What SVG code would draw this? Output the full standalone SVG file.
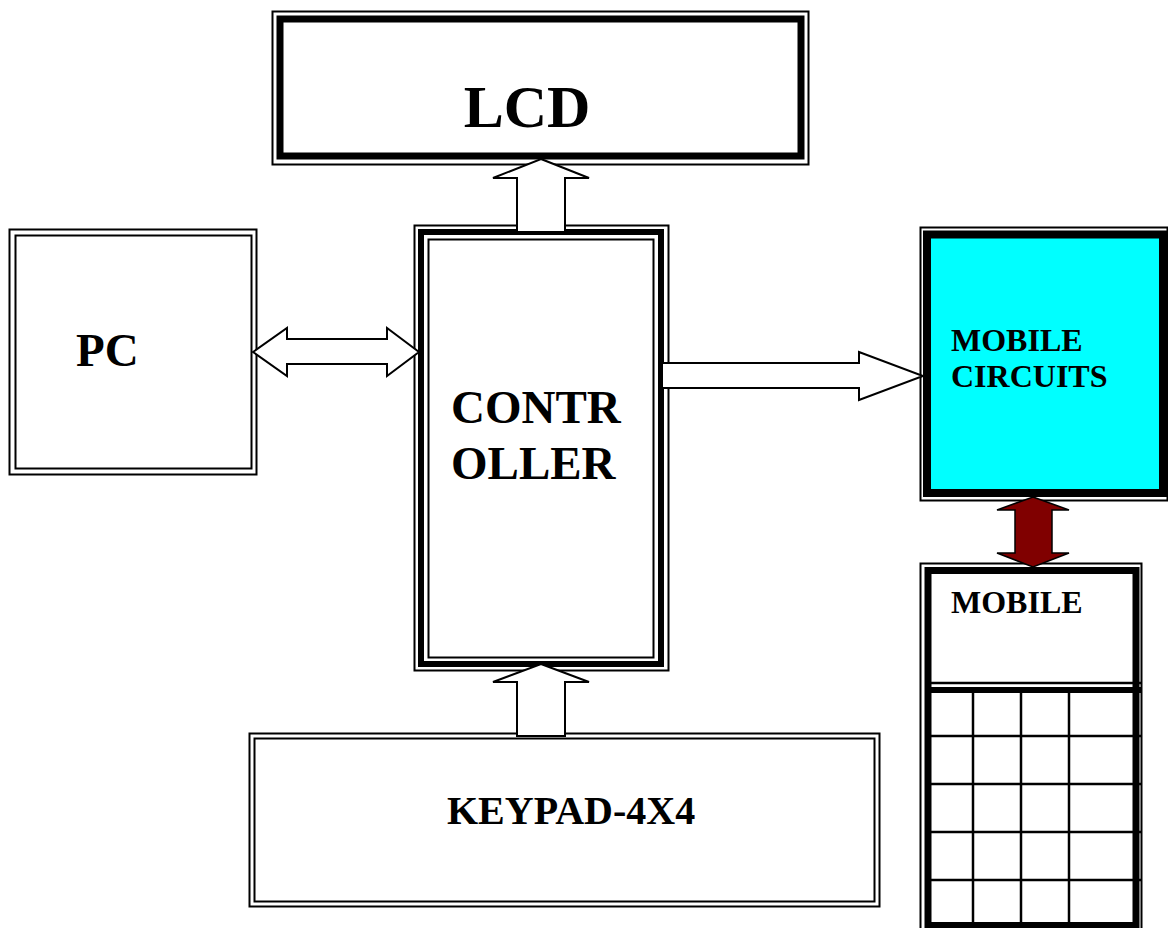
<svg xmlns="http://www.w3.org/2000/svg" width="1168" height="928" viewBox="0 0 1168 928">
<style>
.thin{fill:none;stroke:#000;stroke-width:2}
.thick{fill:none;stroke:#000}
.lbl{font-family:"Liberation Serif","Times New Roman",serif;font-weight:bold;fill:#000}
.arr{fill:#fff;stroke:#000;stroke-width:2;stroke-linejoin:miter}
.grid{stroke:#000;stroke-width:2.5}
</style>
<rect width="1168" height="928" fill="#fff"/>
<g id="lcd">
<rect class="thin" x="272.5" y="11.5" width="536" height="153" stroke-width="1.5"/>
<rect class="thick" x="280" y="19" width="521" height="137" stroke-width="7"/>
<text class="lbl" x="527" y="127" font-size="60" text-anchor="middle">LCD</text>
</g>
<g id="pc">
<rect class="thin" x="9.5" y="229.5" width="247" height="245"/>
<rect class="thin" x="15.5" y="235.5" width="236" height="233"/>
<text class="lbl" x="76" y="366" font-size="47">PC</text>
</g>
<g id="controller">
<rect class="thin" x="414.5" y="225.5" width="254" height="445"/>
<rect class="thick" x="421" y="232" width="240" height="432" stroke-width="6"/>
<rect class="thin" x="428.5" y="239.5" width="225" height="418"/>
<text class="lbl" x="451" y="423" font-size="47">CONTR</text>
<text class="lbl" x="451" y="479" font-size="47">OLLER</text>
</g>
<g id="mobile-circuits">
<rect class="thin" x="920.5" y="227.5" width="247" height="273" stroke-width="1.5"/>
<rect x="927" y="234.5" width="236" height="258.5" fill="#00ffff" stroke="#000" stroke-width="8"/>
<text class="lbl" x="951" y="351" font-size="32">MOBILE</text>
<text class="lbl" x="951" y="387" font-size="32">CIRCUITS</text>
</g>
<g id="mobile">
<rect class="thin" x="920.5" y="563.5" width="221" height="380" stroke-width="1.5"/>
<rect class="thick" x="928" y="570.5" width="208" height="355" stroke-width="7"/>
<line class="grid" x1="931" y1="683" x2="1142" y2="683" stroke-width="2"/>
<line x1="925" y1="690" x2="1142" y2="690" stroke="#000" stroke-width="6"/>
<line class="grid" x1="973" y1="693" x2="973" y2="922"/>
<line class="grid" x1="1021" y1="693" x2="1021" y2="922"/>
<line class="grid" x1="1069" y1="693" x2="1069" y2="922"/>
<line class="grid" x1="931" y1="736" x2="1142" y2="736"/>
<line class="grid" x1="931" y1="784" x2="1142" y2="784"/>
<line class="grid" x1="931" y1="832" x2="1142" y2="832"/>
<line class="grid" x1="931" y1="880" x2="1142" y2="880"/>
<text class="lbl" x="951" y="613" font-size="32">MOBILE</text>
</g>
<g id="keypad">
<rect class="thin" x="249.5" y="733.5" width="630" height="173"/>
<rect class="thin" x="254.5" y="738.5" width="620" height="163"/>
<text class="lbl" x="447" y="824" font-size="40">KEYPAD-4X4</text>
</g>
<g id="connectors">
<polygon class="arr" points="541,159 589,178 565,178 565,232 517,232 517,178 493,178"/>
<polygon class="arr" points="541,664 589,682 565,682 565,736 517,736 517,682 493,682"/>
<polygon class="arr" points="253,352 287,328 287,339 387,339 387,328 419,352 387,376 387,364 287,364 287,376"/>
<polygon class="arr" points="662,363 859,363 859,352 923,376 859,400 859,388 662,388"/>
<polygon points="1033,497 1069,510 1052,510 1052,553 1069,553 1033,567 997,553 1015,553 1015,510 997,510" fill="#800000" stroke="#000" stroke-width="1.5"/>
</g>
</svg>
